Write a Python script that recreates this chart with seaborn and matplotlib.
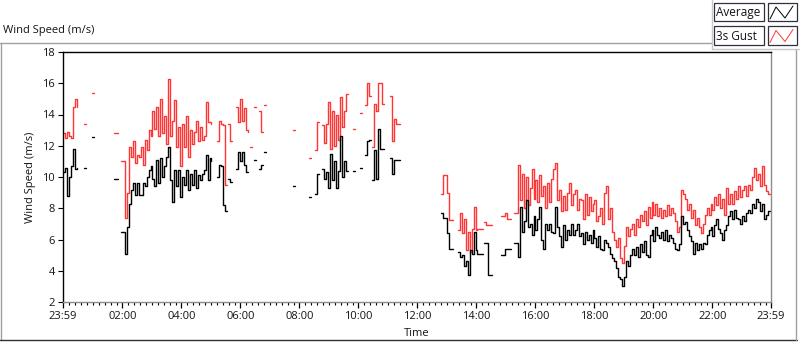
import numpy as np
import pandas as pd
import matplotlib
matplotlib.use("Agg")
import matplotlib.pyplot as plt
import seaborn as sns
from matplotlib.lines import Line2D
from matplotlib.patches import Rectangle
from matplotlib.ticker import FixedLocator

# ---------------- data (minutes after 23:59 of the previous day) ----------------
STEP = 4  # sampling step (minutes) used when reading the picture
SEG_START = [0, 43, 59, 104, 118, 313, 336, 352, 380, 388, 399, 409, 468, 500,
             513, 527, 590, 604, 614, 628, 665, 769, 803, 856, 891, 917]

AVG = [
    [10.3, 10.6, 8.8, 10.0, 10.7, 11.8, 10.5, 10.6],
    [10.6, 10.6],
    [12.55, 12.55],
    [9.9, 9.9, 9.9],
    [6.46, 6.46, 5.1, 6.8, 8.3, 9.2, 9.6, 8.85, 9.6, 8.85, 8.85, 9.6, 9.4, 10.0, 10.45, 10.7,
     9.9, 9.4, 11.1, 9.6, 11.2, 10.0, 10.7, 11.3, 11.9, 9.8, 8.4, 10.45, 9.4, 10.45, 8.7,
     10.0, 9.5, 10.45, 9.2, 10.2, 9.5, 10.45, 9.3, 10.1, 9.8, 10.2, 10.45, 11.4, 9.8, 11.2, 11.0],
    [10.0, 10.8, 10.7, 8.2, 7.8, 7.8],
    [9.9, 9.7, 9.7],
    [10.5, 11.6, 11.0, 11.6, 10.8, 10.3, 10.3],
    None,
    [11.1, 11.1],
    [10.5, 10.8, 10.8],
    [11.6, 11.6],
    [9.4, 9.4],
    [8.7, 8.7],
    [8.9, 10.2, 10.2],
    [10.5, 9.9, 10.3, 9.3, 11.5, 9.8, 11.0, 9.3, 10.4, 12.6, 10.0, 11.0, 10.4, 10.4],
    [10.4, 10.4],
    [10.55, 10.55],
    [11.4, 12.3, 12.4, 12.4],
    [9.8, 11.7, 9.9, 13.1, 11.8, 11.8, 11.8],
    [11.2, 10.2, 11.1, 11.1, 11.1, 11.1],
    [7.7, 7.35, 7.35, 6.4, 5.4, 5.4, 5.4],
    [5.2, 4.9, 5.0, 4.3, 4.6, 3.73, 5.3, 5.1, 6.5, 5.3, 5.05, 5.05, 5.05, 5.05],
    [5.75, 5.75, 3.73, 3.73, 3.73],
    [5.0, 5.0, 5.4, 5.4, 5.4, 5.4],
    [5.75, 5.75, 4.9, 8.1, 6.5, 7.2, 8.5, 6.8, 7.0, 6.3,
     7.5, 6.6, 7.3, 8.1, 6.0, 5.4, 7.0, 6.6, 7.0, 6.5,
     6.4, 8.1, 6.8, 6.2, 5.5, 6.9, 6.0, 6.6, 6.3, 7.0,
     6.3, 6.6, 7.0, 6.2, 6.4, 5.7, 6.5, 6.0, 6.3, 5.8,
     6.6, 6.1, 5.5, 6.2, 5.4, 5.3, 6.0, 5.8, 5.5, 5.1,
     4.8, 4.6, 4.2, 3.6, 3.5, 3.0, 3.6, 4.6, 4.3, 5.0,
     5.4, 5.0, 5.5, 4.9, 5.7, 5.2, 5.9, 5.0, 4.9, 6.3,
     6.6, 5.9, 6.8, 6.3, 6.1, 6.5, 6.0, 6.6, 5.9, 6.3,
     6.1, 5.8, 5.4, 5.3, 5.7, 7.5, 7.0, 7.1, 6.6, 6.2,
     5.9, 5.1, 5.8, 5.3, 5.7, 5.4, 5.8, 5.7, 6.3, 6.6,
     6.8, 6.2, 6.9, 7.3, 6.7, 6.4, 6.0, 6.6, 6.9, 7.5,
     7.8, 7.3, 7.9, 7.4, 7.3, 7.0, 7.5, 7.2, 7.7, 7.9,
     7.7, 8.3, 8.0, 8.6, 8.4, 7.8, 8.3, 7.3, 7.6, 7.8, 7.8],
]

GUST = [
    [12.8, 12.5, 12.9, 12.6, 12.5, 14.5, 15.0, 14.5],
    [13.4, 13.4],
    [15.4, 15.4],
    [12.8, 12.8, 12.8],
    [11.0, 11.0, 7.4, 9.0, 11.9, 11.3, 12.3, 10.9, 11.4, 11.3, 11.9, 10.8, 12.4, 11.7, 13.0, 12.6,
     14.2, 13.1, 14.5, 12.6, 15.0, 12.8, 13.9, 12.1, 16.3, 12.6, 13.6, 14.9, 11.9, 13.2, 10.7,
     13.4, 11.9, 13.9, 11.3, 13.0, 12.1, 12.9, 13.6, 12.3, 13.2, 12.4, 12.6, 14.8, 13.5, 13.5, 13.4],
    [12.3, 13.6, 13.4, 13.3, 9.5, 9.5],
    [13.4, 12.3, 12.3],
    [14.5, 13.5, 15.0, 13.6, 14.4, 13.0, 12.9],
    [11.9, 11.9],
    [14.45, 14.45],
    [14.2, 12.9, 12.9],
    [14.6, 14.6],
    [13.0, 13.0],
    [11.2, 11.2],
    [11.7, 13.5, 13.5],
    [13.3, 12.2, 13.4, 14.8, 11.8, 14.2, 12.0, 14.0, 12.4, 15.1, 13.2, 14.2, 15.3, 15.3],
    [13.1, 13.1],
    [14.1, 14.1],
    [14.6, 16.0, 15.2, 15.2],
    [11.9, 14.7, 14.2, 16.0, 16.0, 14.7, 14.7],
    [15.2, 12.3, 13.7, 13.4, 13.4, 13.4],
    [8.9, 10.1, 10.1, 9.0, 7.25, 7.25, 7.25],
    [6.6, 7.7, 6.4, 7.3, 5.3, 6.5, 5.2, 6.7, 8.1, 6.6, 6.7, 6.7, 6.7, 6.7],
    [7.1, 6.9, 6.9, 6.9, 6.9],
    [7.5, 7.5, 7.7, 7.3, 7.3, 7.3],
    [7.7, 7.7, 10.8, 8.5, 10.2, 8.0, 10.0, 8.2, 9.3, 10.5,
     8.6, 9.8, 8.4, 10.1, 8.8, 9.4, 8.0, 9.6, 8.4, 9.9,
     10.5, 10.9, 8.5, 9.2, 7.8, 8.8, 7.9, 9.0, 9.6, 8.2,
     8.9, 9.2, 7.9, 8.6, 8.5, 7.3, 8.9, 7.6, 8.7, 7.8,
     8.3, 8.5, 7.2, 7.5, 8.0, 7.0, 9.0, 9.4, 7.3, 8.0,
     6.5, 6.0, 5.5, 6.1, 4.8, 4.5, 5.6, 6.8, 6.2, 6.7,
     7.0, 6.3, 7.3, 6.8, 7.6, 7.2, 7.8, 6.9, 8.1, 7.4,
     8.4, 7.6, 8.3, 7.5, 8.0, 7.4, 7.9, 7.5, 8.2, 7.6,
     8.0, 7.7, 7.2, 6.5, 6.8, 9.2, 8.9, 8.6, 7.9, 8.3,
     7.4, 7.9, 6.9, 7.4, 6.8, 6.4, 7.0, 7.6, 8.0, 7.6,
     8.3, 7.9, 8.7, 8.2, 8.9, 8.0, 8.6, 7.6, 9.3, 8.3,
     8.9, 8.3, 9.1, 8.6, 9.4, 8.7, 9.2, 9.4, 8.8, 9.5,
     9.2, 10.0, 10.6, 9.8, 10.2, 9.4, 10.7, 9.5, 9.1, 8.9, 8.9],
]

XTICKS = [0, 121, 241, 361, 481, 601, 721, 841, 961, 1081, 1201, 1321, 1440]
XTICK_LABELS = ["23:59", "02:00", "04:00", "06:00", "08:00", "10:00", "12:00",
                "14:00", "16:00", "18:00", "20:00", "22:00", "23:59"]
YTICKS = [2, 4, 6, 8, 10, 12, 14, 16, 18]
SERIES = ["Average", "3s Gust"]
COLORS = ["#000000", "#ff3636"]

# ---------------- long-form table ----------------
rows = []
for i, (s, a, g) in enumerate(zip(SEG_START, AVG, GUST)):
    n = len(g) if g is not None else len(a)
    for k in range(n):
        rows.append({"seg": i, "t": s + STEP * k,
                     "Average": a[k] if a is not None else np.nan,
                     "3s Gust": g[k] if g is not None else np.nan})
df = pd.DataFrame(rows)

# ---------------- figure ----------------
sns.set_style("white")
plt.rcParams["font.family"] = ["Open Sans", "DejaVu Sans"]
W, H = 800, 342
fig = plt.figure(figsize=(W / 100, H / 100), dpi=100)
fig.patch.set_facecolor("white")

def fx(x):
    return x / W

def fy(y):
    return 1 - y / H

ax = fig.add_axes([fx(63), fy(302), (771 - 63) / W, (302 - 52) / H])

# gust first, average drawn on top
for name, color in [(SERIES[1], COLORS[1]), (SERIES[0], COLORS[0])]:
    d = df.dropna(subset=[name])
    sns.lineplot(data=d, x="t", y=name, units="seg", estimator=None, sort=True,
                 color=color, lw=1.0, drawstyle="steps-post", ax=ax, legend=False)

ax.set_xlim(0, 1440)
ax.set_ylim(2, 18)
ax.set_xlabel("")
ax.set_ylabel("")
ax.set_xticks(XTICKS)
ax.set_xticklabels(XTICK_LABELS)
ax.xaxis.set_minor_locator(FixedLocator([1 + 12 * k for k in range(1, 120) if (1 + 12 * k) % 120 != 1]))
ax.set_yticks(YTICKS)
ax.set_yticklabels([str(v) for v in YTICKS])

txt = "#141414"
ax.tick_params(axis="x", which="major", direction="out", length=4.0, width=0.9,
               color="black", pad=2.5, labelsize=8, labelcolor=txt, bottom=True)
ax.tick_params(axis="x", which="minor", direction="out", length=2.2, width=0.8,
               color="black", bottom=True)
ax.tick_params(axis="y", which="major", direction="out", length=3.6, width=0.8,
               color="black", pad=2, labelsize=8, labelcolor=txt, left=True)

for side, col in [("top", "black"), ("left", "black"), ("right", "#8c8c8c"), ("bottom", "#8c8c8c")]:
    ax.spines[side].set_visible(True)
    ax.spines[side].set_color(col)
    ax.spines[side].set_linewidth(1.0)

# texts
fig.text(fx(3), fy(31), "Wind Speed (m/s)", ha="left", va="center", fontsize=8, color=txt)
fig.text(fx(31), fy(177), "Wind Speed (m/s)", ha="center", va="center", rotation=90,
         fontsize=8, color=txt)
fig.text(fx(417), fy(333), "Time", ha="center", va="center", fontsize=8, color=txt)

# outer panel frame
def fline(x0, y0, x1, y1, color, lw=1.0):
    fig.add_artist(Line2D([fx(x0), fx(x1)], [fy(y0), fy(y1)], color=color, lw=lw,
                          transform=fig.transFigure))

fline(0, 42.5, 712, 42.5, "#a0a0a0")
fline(0.5, 42.5, 0.5, 340, "#a0a0a0")
fline(0, 340, 797, 340, "#303030")
fline(796, 49, 796, 340, "#a0a0a0")
fline(712, 0, 712, 48.5, "#c8c8c8")
fline(712, 48.5, 799, 48.5, "#c8c8c8")

# legend (plot-name boxes + line samples)
for i, (name, color) in enumerate(zip(SERIES, COLORS)):
    top = 3 + 23.5 * i
    fig.add_artist(Rectangle((fx(713.5), fy(top + 18)), 50 / W, 18 / H, transform=fig.transFigure,
                             facecolor="white", edgecolor="#303040", lw=0.9))
    fig.add_artist(Rectangle((fx(767.5), fy(top + 18)), 29.5 / W, 18 / H, transform=fig.transFigure,
                             facecolor="white", edgecolor="#303040", lw=0.9))
    fig.text(fx(715.5), fy(top + 9.5), name, ha="left", va="center", fontsize=8.5, color=txt)
    zx = [770, 776, 785, 793]
    zy = [top + 16, top + 4, top + 15, top + 3]
    fig.add_artist(Line2D([fx(v) for v in zx], [fy(v) for v in zy], color=color, lw=0.7,
                          transform=fig.transFigure))

fig.savefig("out.png", dpi=100, facecolor="white")
